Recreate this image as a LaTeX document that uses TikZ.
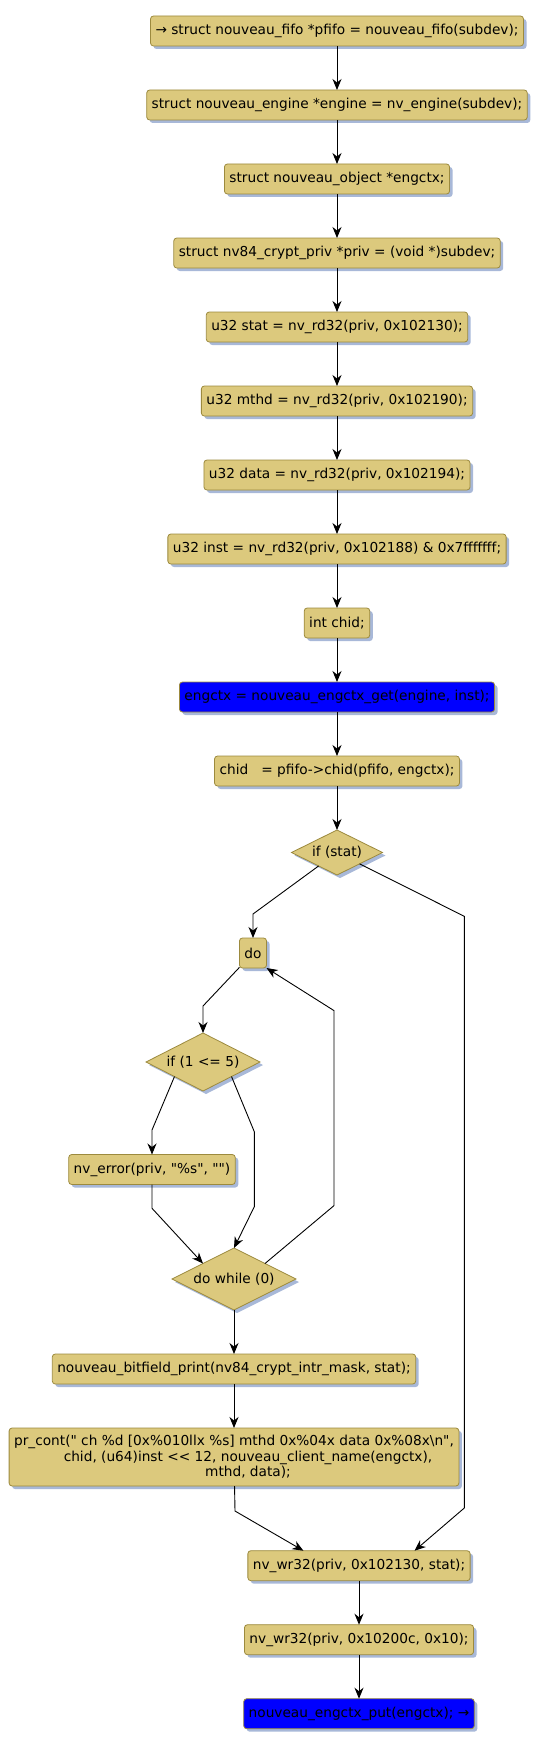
\documentclass[tikz,border=0pt]{standalone}
\usepackage{fontspec}
\setmainfont{DejaVu Sans}[Ligatures=TeXOff]
\usepackage{tikz}
\usetikzlibrary{shapes.geometric, arrows.meta, positioning, shadows, calc}
\definecolor{stmtfill}{HTML}{DCC97D}
\definecolor{stmtdraw}{HTML}{9C8A3E}
\definecolor{shadowblue}{HTML}{A8B8D8}
\definecolor{callfill}{HTML}{0000FF}

\begin{document}
\begin{tikzpicture}[
    x=1pt, y=-1pt,
    stmt/.style={rectangle, draw=stmtdraw, fill=stmtfill, line width=0.8pt, outer sep=0pt, minimum height=30pt, inner xsep=5pt, font=\fontsize{13.7}{15.5}\selectfont, text=black, rounded corners=3pt, drop shadow={shadow xshift=3pt, shadow yshift=-3pt, fill=shadowblue, opacity=1}},
    callbox/.style={stmt, fill=callfill},
    cond/.style={diamond, aspect=2, draw=stmtdraw, fill=stmtfill, line width=0.8pt, outer sep=0pt, inner sep=0pt, font=\fontsize{13.7}{15.5}\selectfont, text=black, drop shadow={shadow xshift=3pt, shadow yshift=-3pt, fill=shadowblue, opacity=1}},
    line/.style={draw=black, line width=0.9pt, -{Stealth[length=11pt, width=9pt, inset=3.5pt]}},
]
    \useasboundingbox (0,0) rectangle (548,1747);

    \node[stmt] (fifo) at (337,31) {→ struct nouveau\_fifo *pfifo = nouveau\_fifo(subdev);};
    \node[stmt, below=44pt of fifo] (engine) {struct nouveau\_engine *engine = nv\_engine(subdev);};
    \node[stmt, below=44pt of engine] (object) {struct nouveau\_object *engctx;};
    \node[stmt, below=44pt of object] (priv) {struct nv84\_crypt\_priv *priv = (void *)subdev;};
    \node[stmt, below=44pt of priv] (stat) {u32 stat = nv\_rd32(priv, 0x102130);};
    \node[stmt, below=44pt of stat] (mthd) {u32 mthd = nv\_rd32(priv, 0x102190);};
    \node[stmt, below=44pt of mthd] (data) {u32 data = nv\_rd32(priv, 0x102194);};
    \node[stmt, below=44pt of data] (inst) {u32 inst = nv\_rd32(priv, 0x102188) \& 0x7fffffff;};
    \node[stmt, below=44pt of inst] (chiddecl) {int chid;};
    \node[callbox, below=44pt of chiddecl] (get) {engctx = nouveau\_engctx\_get(engine, inst);};
    \node[stmt, below=44pt of get] (chid) {chid\ \ \ = pfifo->chid(pfifo, engctx);};
    \node[cond, minimum width=91pt, minimum height=45pt, below=44pt of chid] (ifstat) {if (stat)};

    \node[stmt] (do) at (253,953) {do};
    \node[cond, minimum width=114pt, minimum height=58pt] (ifle) at (203,1062) {if (1 <= 5)};
    \node[stmt] (nverr) at (152,1169.5) {nv\_error(priv, "\%s", "")};
    \node[cond, minimum width=124pt, minimum height=62pt] (dowhile) at (234,1279) {do while (0)};
    \node[stmt, below=44pt of dowhile] (bitfield) {nouveau\_bitfield\_print(nv84\_crypt\_intr\_mask, stat);};
    \node[stmt, align=center, minimum height=58pt, below=44pt of bitfield] (prcont) {pr\_cont(" ch \%d [0x\%010llx \%s] mthd 0x\%04x data 0x\%08x\textbackslash n",\\
        \hspace*{28pt}chid, (u64)inst <{}< 12, nouveau\_client\_name(engctx),\\
        \hspace*{28pt}mthd, data);};

    \node[stmt] (wrstat) at (359,1565.7) {nv\_wr32(priv, 0x102130, stat);};
    \node[stmt, below=44pt of wrstat] (wrack) {nv\_wr32(priv, 0x10200c, 0x10);};
    \node[callbox, below=44pt of wrack] (put) {nouveau\_engctx\_put(engctx); →};

    \coordinate (c1) at (253,914);
    \coordinate (c2) at (464.3,916.3);
    \coordinate (c3) at (464.3,1508);
    \coordinate (c4) at (203,1006);
    \coordinate (c5) at (334,1205.6);
    \coordinate (c6) at (334,1010.6);
    \coordinate (c7) at (152,1130);
    \coordinate (c8) at (254.3,1131.7);
    \coordinate (c9) at (254.3,1206.7);
    \coordinate (c10) at (152,1208.3);
    \coordinate (c11) at (235,1511);

    \draw[line] (fifo) -- (engine);
    \draw[line] (engine) -- (object);
    \draw[line] (object) -- (priv);
    \draw[line] (priv) -- (stat);
    \draw[line] (stat) -- (mthd);
    \draw[line] (mthd) -- (data);
    \draw[line] (data) -- (inst);
    \draw[line] (inst) -- (chiddecl);
    \draw[line] (chiddecl) -- (get);
    \draw[line] (get) -- (chid);
    \draw[line] (chid) -- (ifstat);
    \draw[line] (ifstat) -- (c1) -- (do);
    \draw[line] (ifstat) -- (c2) -- (c3) -- ($(wrstat.north)!0.5!(wrstat.north east)$);
    \draw[line] (do) -- (c4) -- (ifle);
    \draw[line] (ifle.south west) -- (c7) -- (nverr);
    \draw[line] (ifle.south east) -- (c8) -- (c9) -- (dowhile.north);
    \draw[line] (nverr) -- (c10) -- (dowhile.north west);
    \draw[line] (dowhile.north east) -- (c5) -- (c6) -- (do.south east);
    \draw[line] (dowhile) -- (bitfield);
    \draw[line] (bitfield) -- (prcont);
    \draw[line] (prcont) -- (c11) -- ($(wrstat.north west)!0.5!(wrstat.north)$);
    \draw[line] (wrstat) -- (wrack);
    \draw[line] (wrack) -- (put);
\end{tikzpicture}
\end{document}
